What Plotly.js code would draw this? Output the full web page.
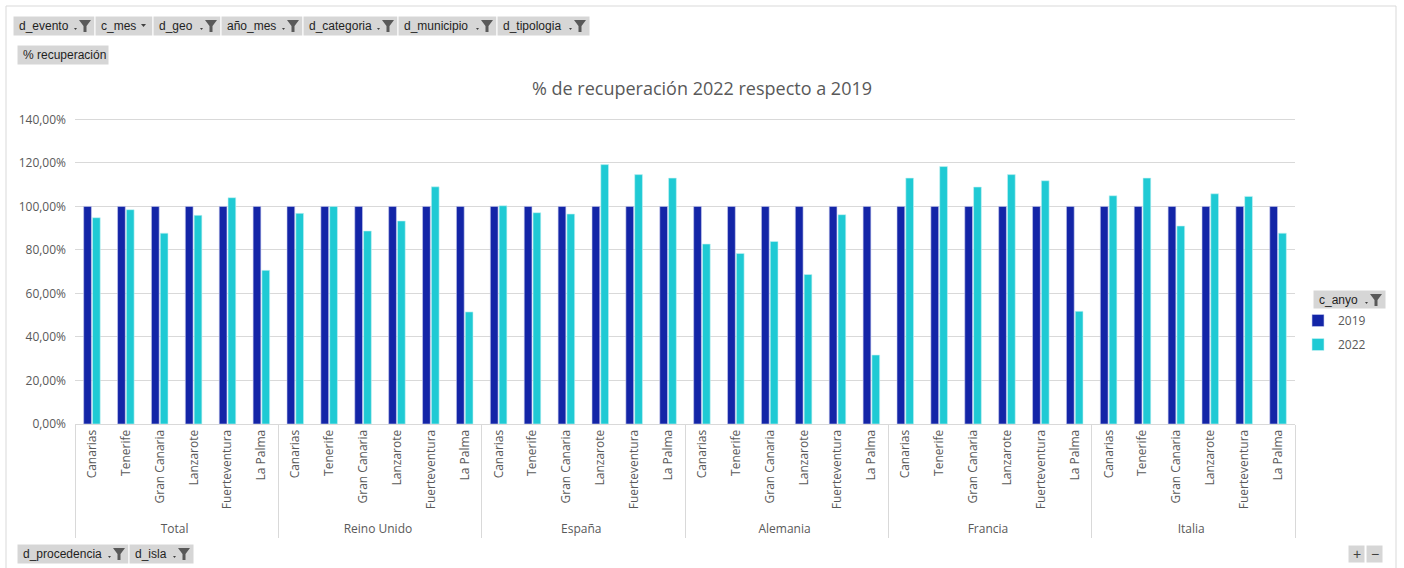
<!DOCTYPE html>
<html>
<head>
<meta charset="utf-8">
<script src="https://cdn.plot.ly/plotly-3.0.1.min.js"></script>
<style>html,body{margin:0;padding:0;background:#fff;}#chart{width:1404px;height:568px;}</style>
</head>
<body>
<div id="chart"></div>
<script>
// ---------- DATA ----------
const groups = ['Total', 'Reino Unido', 'España', 'Alemania', 'Francia', 'Italia'];
const islands = ['Canarias', 'Tenerife', 'Gran Canaria', 'Lanzarote', 'Fuerteventura', 'La Palma'];
const seriesNames = ['2019', '2022'];
// % recuperación (fractions), 2019 = base
const v2019_total      = [1, 1, 1, 1, 1, 1];
const v2019_reinoUnido = [1, 1, 1, 1, 1, 1];
const v2019_espana     = [1, 1, 1, 1, 1, 1];
const v2019_alemania   = [1, 1, 1, 1, 1, 1];
const v2019_francia    = [1, 1, 1, 1, 1, 1];
const v2019_italia     = [1, 1, 1, 1, 1, 1];
const v2022_total      = [0.948, 0.985, 0.877, 0.959, 1.040, 0.706];
const v2022_reinoUnido = [0.968, 1.000, 0.887, 0.933, 1.090, 0.515];
const v2022_espana     = [1.003, 0.971, 0.965, 1.192, 1.146, 1.130];
const v2022_alemania   = [0.827, 0.784, 0.839, 0.687, 0.962, 0.317];
const v2022_francia    = [1.130, 1.183, 1.089, 1.146, 1.118, 0.518];
const v2022_italia     = [1.049, 1.130, 0.910, 1.058, 1.046, 0.877];
const yTicks = [0, 0.2, 0.4, 0.6, 0.8, 1.0, 1.2, 1.4];
const topFields = ['d_evento', 'c_mes', 'd_geo', 'año_mes', 'd_categoria', 'd_municipio', 'd_tipologia'];
const valueField = '% recuperación';
const bottomFields = ['d_procedencia', 'd_isla'];
const legendField = 'c_anyo';
const chartTitle = '% de recuperación 2022 respecto a 2019';

// ---------- BUILD ----------
const v2019 = [v2019_total, v2019_reinoUnido, v2019_espana, v2019_alemania, v2019_francia, v2019_italia];
const v2022 = [v2022_total, v2022_reinoUnido, v2022_espana, v2022_alemania, v2022_francia, v2022_italia];
const xOuter = [], xInner = [], y19 = [], y22 = [];
groups.forEach((g, gi) => {
  islands.forEach((isl, ii) => {
    xOuter.push(g); xInner.push(isl);
    y19.push(v2019[gi][ii]); y22.push(v2022[gi][ii]);
  });
});

const C19 = '#1325A7', C22 = '#1FCAD4';
const W = 1404, H = 568;
const M = {l: 75, r: 109, t: 115, b: 144};
const PW = W - M.l - M.r, PH = H - M.t - M.b;
const px = x => (x - M.l) / PW;
const py = y => (H - M.b - y) / PH;

const traces = [
  {type: 'bar', name: seriesNames[0], x: [xOuter, xInner], y: y19,
   marker: {color: C19, line: {color: '#c9cdee', width: 0.6}}, legendgroup: 'a', hoverinfo: 'x+y'},
  {type: 'bar', name: seriesNames[1], x: [xOuter, xInner], y: y22,
   marker: {color: C22, line: {color: '#c8f1f3', width: 0.6}}, legendgroup: 'b', hoverinfo: 'x+y'}
];

const shapes = [], annotations = [];
shapes.push({type: 'rect', xref: 'paper', yref: 'paper', x0: px(6), x1: px(1396), y0: py(6), y1: py(575),
  line: {color: '#d9d9d9', width: 1}, fillcolor: 'rgba(0,0,0,0)', layer: 'below'});

function button(x0, x1, y0, y1, label, icon) {
  shapes.push({type: 'rect', xref: 'paper', yref: 'paper', x0: px(x0), x1: px(x1), y0: py(y0), y1: py(y1),
    line: {color: '#ffffff', width: 1}, fillcolor: '#d6d6d6'});
  annotations.push({xref: 'paper', yref: 'paper', x: px(x0 + 4), y: py((y0 + y1) / 2), text: label,
    showarrow: false, xanchor: 'left', yanchor: 'middle',
    font: {family: 'Liberation Sans, Arial, sans-serif', size: 12, color: '#1f1f1f'}});
  if (icon === 'filter') {
    const fx = x1 - 16, fy = y0 + 4;
    const pts = [[fx, fy], [fx + 12, fy], [fx + 7.5, fy + 6], [fx + 7.5, fy + 12], [fx + 4.5, fy + 12], [fx + 4.5, fy + 6]];
    shapes.push({type: 'path', xref: 'paper', yref: 'paper',
      path: 'M' + pts.map(p => px(p[0]) + ',' + py(p[1])).join(' L') + ' Z',
      fillcolor: '#595959', line: {width: 0}});
    const dx = fx - 5, dy = y0 + 12;
    shapes.push({type: 'path', xref: 'paper', yref: 'paper',
      path: 'M' + px(dx) + ',' + py(dy) + ' L' + px(dx + 3) + ',' + py(dy) + ' L' + px(dx + 1.5) + ',' + py(dy + 2) + ' Z',
      fillcolor: '#404040', line: {width: 0}});
  } else if (icon === 'arrow') {
    const dx = x1 - 12, dy = y0 + 8;
    shapes.push({type: 'path', xref: 'paper', yref: 'paper',
      path: 'M' + px(dx) + ',' + py(dy) + ' L' + px(dx + 5) + ',' + py(dy) + ' L' + px(dx + 2.5) + ',' + py(dy + 3) + ' Z',
      fillcolor: '#404040', line: {width: 0}});
  }
}
const topEdges = [13, 95, 153, 221, 303, 398, 497, 590];
topFields.forEach((f, i) => button(topEdges[i], topEdges[i + 1], 16, 36, f, f === 'c_mes' ? 'arrow' : 'filter'));
button(17, 109, 45, 65, valueField, null);
const botEdges = [17, 129, 194];
bottomFields.forEach((f, i) => button(botEdges[i], botEdges[i + 1], 544, 564, f, 'filter'));
button(1313, 1386, 290, 309, legendField, 'filter');
[['+', 1348, 1365], ['−', 1366, 1383]].forEach(b => {
  shapes.push({type: 'rect', xref: 'paper', yref: 'paper', x0: px(b[1]), x1: px(b[2]), y0: py(545), y1: py(563),
    line: {color: '#ffffff', width: 1}, fillcolor: '#d6d6d6'});
  annotations.push({xref: 'paper', yref: 'paper', x: px((b[1] + b[2]) / 2), y: py(554), text: b[0], showarrow: false,
    xanchor: 'center', yanchor: 'middle', font: {family: 'Liberation Sans, Arial', size: 14, color: '#404040'}});
});

const layout = {
  width: W, height: H,
  margin: M,
  paper_bgcolor: '#ffffff', plot_bgcolor: '#ffffff',
  separators: ',.',
  font: {family: 'Open Sans, Noto Sans, sans-serif', size: 12, color: '#595959'},
  title: {text: chartTitle, x: 0.5, xref: 'container', xanchor: 'center', y: 1 - 89 / H, yanchor: 'middle',
    font: {family: 'Open Sans, Noto Sans, sans-serif', size: 18, color: '#595959'}},
  barmode: 'group', bargap: 0.48, bargroupgap: 0.12,
  xaxis: {type: 'multicategory', tickangle: -90, showline: true, linecolor: '#d9d9d9', linewidth: 1,
    showdividers: true, dividercolor: '#d9d9d9', dividerwidth: 1, ticks: '', showgrid: false,
    tickfont: {size: 12, color: '#595959'}},
  yaxis: {range: [0, 1.42], tickvals: yTicks, tickformat: '.2%', showgrid: true,
    gridcolor: '#d9d9d9', gridwidth: 1, ticklabelstandoff: 8,
    zeroline: false, showline: false, ticks: '', tickfont: {size: 12, color: '#595959'}, fixedrange: true},
  showlegend: true,
  legend: {x: px(1298), y: py(306), xanchor: 'left', yanchor: 'top', traceorder: 'grouped', tracegroupgap: 5,
    font: {size: 12, color: '#595959'}, bgcolor: 'rgba(0,0,0,0)', itemwidth: 30},
  shapes: shapes, annotations: annotations
};

Plotly.newPlot('chart', traces, layout, {displayModeBar: false, staticPlot: true});
</script>
</body>
</html>
